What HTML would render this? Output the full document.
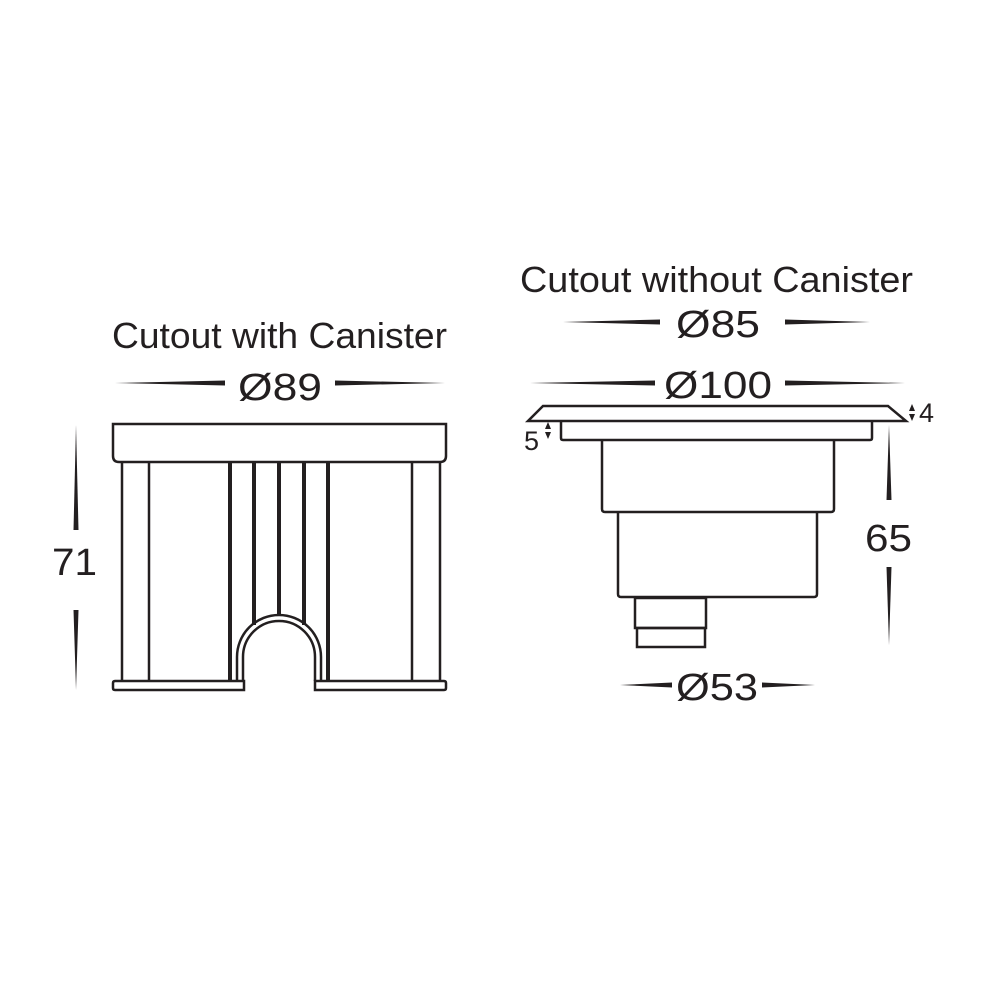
<!DOCTYPE html>
<html><head><style>html,body{margin:0;padding:0;background:#fff}svg{display:block}</style></head>
<body>
<svg width="1000" height="1000" viewBox="0 0 1000 1000" xmlns="http://www.w3.org/2000/svg" font-family="Liberation Sans, sans-serif" fill="#231f20">
<g fill="none" stroke="#231f20" stroke-width="2.5">
<path d="M113 424 H446 V456 Q446 462 440 462 H119 Q113 462 113 456 Z"/>
<line x1="122" y1="462" x2="122" y2="681"/>
<line x1="440" y1="462" x2="440" y2="681"/>
<line x1="149" y1="462" x2="149" y2="681"/>
<line x1="412" y1="462" x2="412" y2="681"/>
<g stroke-width="4">
<line x1="230" y1="462" x2="230" y2="681"/>
<line x1="254" y1="462" x2="254" y2="625"/>
<line x1="279" y1="462" x2="279" y2="616"/>
<line x1="304" y1="462" x2="304" y2="625"/>
<line x1="328" y1="462" x2="328" y2="681"/>
</g>
<path d="M237 681 V657 A42 42 0 0 1 321 657 V681"/>
<path d="M243 681 V657 A36 36 0 0 1 315 657 V681"/>
<path d="M115 681 H244 V690 H115 Q113 690 113 688 V683 Q113 681 115 681 Z"/>
<path d="M315 681 H444 Q446 681 446 683 V688 Q446 690 444 690 H315 Z"/>
<path d="M543 406 H888 L906 421 H528 Z"/>
<path d="M561 421 V438 Q561 440 563 440 H870 Q872 440 872 438 V421"/>
<path d="M602 440 V509 Q602 512 605 512 H831 Q834 512 834 509 V440"/>
<path d="M618 512 V594 Q618 597 621 597 H814 Q817 597 817 594 V512"/>
<rect x="635" y="598" width="71" height="30"/>
<rect x="637" y="628" width="68" height="19"/>
</g>
<polygon points="115,383 225,380.5 225,385.5"/>
<polygon points="445,383 335,380.5 335,385.5"/>
<polygon points="76,425 73.5,530 78.5,530"/>
<polygon points="76,690 73.5,610 78.5,610"/>
<polygon points="563,322 660,319.5 660,324.5"/>
<polygon points="870,322 785,319.5 785,324.5"/>
<polygon points="530,383 655,380.5 655,385.5"/>
<polygon points="905,383 785,380.5 785,385.5"/>
<polygon points="620,685 672,682.5 672,687.5"/>
<polygon points="815,685 762,682.5 762,687.5"/>
<polygon points="889,425 886.5,500 891.5,500"/>
<polygon points="889,645 886.5,567 891.5,567"/>
<polygon points="912,404 909,411 915,411"/><polygon points="912,421 909,414 915,414"/>
<polygon points="548,422 545,429 551,429"/><polygon points="548,439 545,432 551,432"/>
<text x="112" y="348" font-size="36" textLength="335" lengthAdjust="spacingAndGlyphs">Cutout with Canister</text>
<text x="238" y="400" font-size="38" textLength="84" lengthAdjust="spacingAndGlyphs">Ø89</text>
<text x="52" y="575" font-size="38" textLength="45" lengthAdjust="spacingAndGlyphs">71</text>
<text x="520" y="292" font-size="36" textLength="393" lengthAdjust="spacingAndGlyphs">Cutout without Canister</text>
<text x="676" y="337" font-size="38" textLength="84" lengthAdjust="spacingAndGlyphs">Ø85</text>
<text x="664" y="398" font-size="38" textLength="108" lengthAdjust="spacingAndGlyphs">Ø100</text>
<text x="676" y="700" font-size="38" textLength="82" lengthAdjust="spacingAndGlyphs">Ø53</text>
<text x="865" y="551" font-size="38" textLength="47" lengthAdjust="spacingAndGlyphs">65</text>
<text x="919" y="422" font-size="27">4</text>
<text x="524" y="450" font-size="27">5</text>
</svg>
</body></html>
